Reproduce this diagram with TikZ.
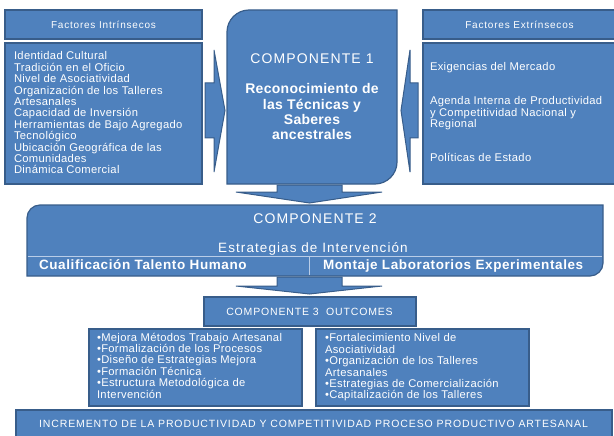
\documentclass[tikz,border=0pt]{standalone}
\usepackage{fontspec}
\setmainfont{Liberation Sans}
\definecolor{boxfill}{HTML}{4F81BD}
\definecolor{boxline}{HTML}{385D8A}
\definecolor{divline}{HTML}{B9CDE8}
\tikzset{
  boxshape/.style={draw=boxline, fill=boxfill, line width=1.2pt},
  plainbox/.style={boxshape, rectangle, inner sep=0pt, outer sep=0pt},
  txt/.style={text=white, inner sep=0pt, outer sep=0pt},
  hdrtxt/.style={txt, font=\fontsize{10}{12}\selectfont\addfontfeature{LetterSpace=8}},
  listtxt/.style={txt, align=left, font=\fontsize{11.2}{11.4}\selectfont\addfontfeature{LetterSpace=3}},
  titletxt/.style={txt, font=\fontsize{14}{16}\selectfont\addfontfeature{LetterSpace=8}},
  subtxt/.style={txt, font=\fontsize{13.5}{15}\selectfont\bfseries\addfontfeature{LetterSpace=4.5}},
  blockarrow/.style={boxshape, line width=1pt},
  divider/.style={draw=divline, line width=1pt}
}
\begin{document}
\begin{tikzpicture}[x=1pt,y=-1pt]
\useasboundingbox (0,0) rectangle (614,436);

% ---- top left boxes
\node[plainbox, minimum width=197pt, minimum height=29pt] (fi) at (103.5,24.5) {};
\node[hdrtxt, anchor=base] (fit) at (103.5,28.1) {Factores Intrínsecos};
\node[plainbox, minimum width=197pt, minimum height=141pt] (li) at (103.5,113.5) {};
\node[listtxt, anchor=west] (lit) at (14,112.9) {Identidad Cultural\\Tradición en el Oficio\\Nivel de Asociatividad\\Organización de los Talleres\\Artesanales\\Capacidad de Inversión\\Herramientas de Bajo Agregado\\Tecnológico\\Ubicación Geográfica de las\\Comunidades\\Dinámica Comercial};

% ---- top right boxes
\node[plainbox, minimum width=197pt, minimum height=29pt] (fe) at (521.5,24.5) {};
\node[hdrtxt, anchor=base] (fet) at (519.5,28.1) {Factores Extrínsecos};
\node[plainbox, minimum width=197pt, minimum height=141pt] (le) at (521.5,113.5) {};
\node[listtxt, anchor=west, font=\fontsize{11.2}{11.5}\selectfont\addfontfeature{LetterSpace=3}] (let) at (430,112.4) {Exigencias del Mercado\\[22.5pt]Agenda Interna de Productividad\\y Competitividad Nacional y\\Regional\\[22.5pt]Políticas de Estado};

% ---- componente 1
\draw[boxshape] (227,184) -- (227,32) .. controls (227,19.9) and (236.9,10) .. (249,10)
  -- (397,10) -- (397,162) .. controls (397,174.1) and (387.1,184) .. (375,184) -- cycle;
\node[txt, align=center, font=\fontsize{14}{15.3}\selectfont] (c1) at (312,97)
  {{\addfontfeature{LetterSpace=8}COMPONENTE 1}\\[14.7pt]
   {\bfseries\addfontfeature{LetterSpace=2}Reconocimiento de}\\
   {\bfseries\addfontfeature{LetterSpace=2}las Técnicas y}\\
   {\bfseries\addfontfeature{LetterSpace=2}Saberes}\\
   {\bfseries\addfontfeature{LetterSpace=2}ancestrales}};

% ---- side arrows
\draw[blockarrow] (205,83) -- (214,83) -- (214,50) -- (225,110.5) -- (214,172) -- (214,138) -- (205,138) -- cycle;
\draw[blockarrow] (418,83) -- (410,83) -- (410,50) -- (401,110.5) -- (410,172) -- (410,138) -- (418,138) -- cycle;

% ---- down arrow 1
\draw[blockarrow] (277,185) -- (342,185) -- (342,192) -- (382,192) -- (309.5,203) -- (236,192) -- (277,192) -- cycle;

% ---- componente 2
\draw[boxshape] (27,276) -- (27,218) .. controls (27,210.8) and (32.8,205) .. (40,205)
  -- (603,205) -- (603,263) .. controls (603,270.2) and (597.2,276) .. (590,276) -- cycle;
\draw[divider] (27.6,256) -- (602.4,256);
\draw[divider] (309,256) -- (309,275.4);
\node[titletxt, anchor=base] (c2) at (315,223) {COMPONENTE 2};
\node[txt, anchor=base, font=\fontsize{13.5}{15}\selectfont\addfontfeature{LetterSpace=8}] (c2s) at (313,252.8) {Estrategias de Intervención};
\node[subtxt, anchor=base west] (c2a) at (39,269.8) {Cualificación Talento Humano};
\node[subtxt, anchor=base west] (c2b) at (323,269.8) {Montaje Laboratorios Experimentales};

% ---- down arrow 2
\draw[blockarrow] (277,277) -- (342,277) -- (342,286) -- (382,286) -- (309.5,294) -- (236,286) -- (277,286) -- cycle;

% ---- componente 3
\node[plainbox, minimum width=212pt, minimum height=29pt] (c3) at (310,311.5) {};
\node[txt, anchor=base, font=\fontsize{10.5}{12}\selectfont\addfontfeature{LetterSpace=8}] (c3t) at (309.5,315.3) {COMPONENTE 3\ \ OUTCOMES};

% ---- outcomes
\node[plainbox, minimum width=213pt, minimum height=77pt] (ol) at (195.5,367.5) {};
\node[listtxt, anchor=west] (olt) at (97,365.5) {•Mejora Métodos Trabajo Artesanal\\•Formalización de los Procesos\\•Diseño de Estrategias Mejora\\•Formación Técnica\\•Estructura Metodológica de\\Intervención};
\node[plainbox, minimum width=213pt, minimum height=77pt] (or) at (422.5,367.5) {};
\node[listtxt, anchor=west] (ort) at (325,367.5) {•Fortalecimiento Nivel de\\Asociatividad\\•Organización de los Talleres\\Artesanales\\•Estrategias de Comercialización\\•Capitalización de los Talleres};

% ---- bottom
\node[plainbox, minimum width=596pt, minimum height=36pt] (bot) at (314,428) {};
\node[txt, anchor=base, font=\fontsize{10.5}{12}\selectfont\addfontfeature{LetterSpace=8.5}] (bott) at (313.5,427.8) {INCREMENTO DE LA PRODUCTIVIDAD Y COMPETITIVIDAD PROCESO PRODUCTIVO ARTESANAL};
\end{tikzpicture}
\end{document}
